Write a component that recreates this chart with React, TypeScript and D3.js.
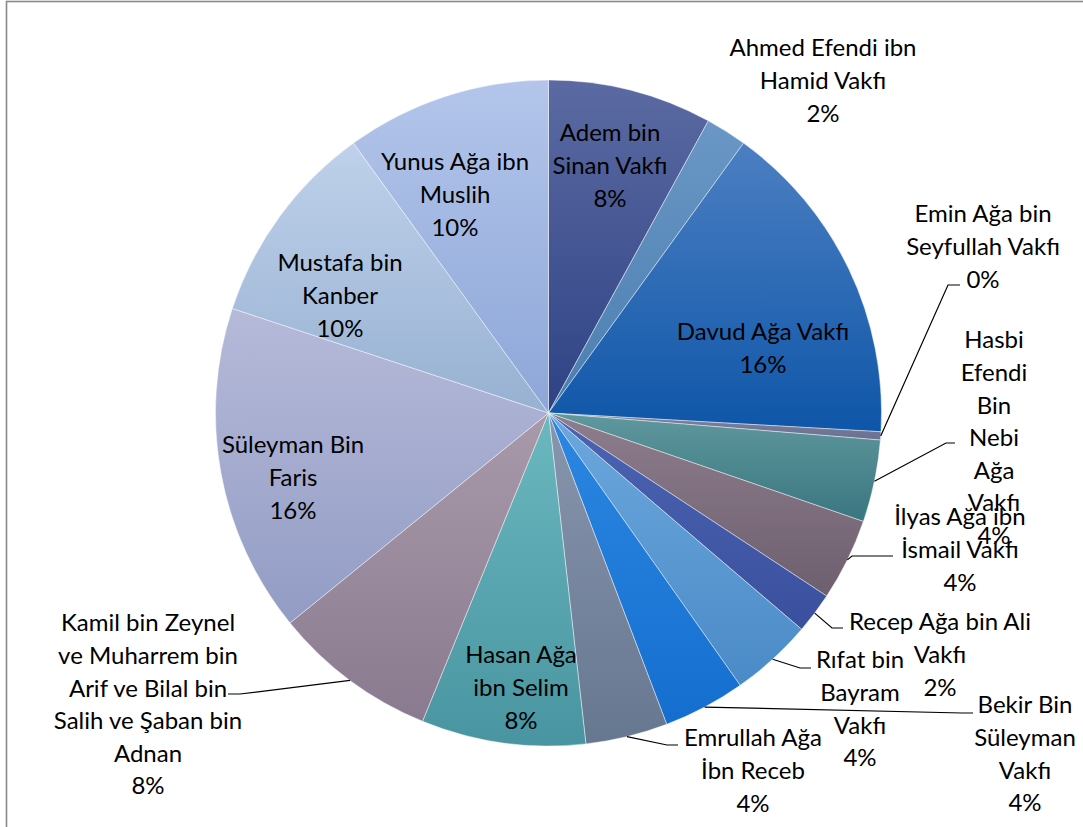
import React from "react";
import * as d3 from "d3";

const categories = [
  "Adem bin Sinan Vakfı",
  "Ahmed Efendi ibn Hamid Vakfı",
  "Davud Ağa Vakfı",
  "Emin Ağa bin Seyfullah Vakfı",
  "Hasbi Efendi Bin Nebi Ağa Vakfı",
  "İlyas Ağa ibn İsmail Vakfı",
  "Recep Ağa bin Ali Vakfı",
  "Rıfat bin Bayram Vakfı",
  "Bekir Bin Süleyman Vakfı",
  "Emrullah Ağa İbn Receb",
  "Hasan Ağa ibn Selim",
  "Kamil bin Zeynel ve Muharrem bin Arif ve Bilal bin Salih ve Şaban bin Adnan",
  "Süleyman Bin Faris",
  "Mustafa bin Kanber",
  "Yunus Ağa ibn Muslih",
];

const values = [4, 1, 8, 0.2, 2, 2, 1, 2, 2, 2, 4, 4, 8, 5, 5];

// label text as wrapped in the original
const labelLines = [
  ["Adem bin", "Sinan Vakfı"],
  ["Ahmed Efendi ibn", "Hamid Vakfı"],
  ["Davud Ağa Vakfı"],
  ["Emin Ağa bin", "Seyfullah Vakfı"],
  ["Hasbi", "Efendi", "Bin", "Nebi", "Ağa", "Vakfı"],
  ["İlyas Ağa ibn", "İsmail Vakfı"],
  ["Recep Ağa bin Ali", "Vakfı"],
  ["Rıfat bin", "Bayram", "Vakfı"],
  ["Bekir Bin", "Süleyman", "Vakfı"],
  ["Emrullah Ağa", "İbn Receb"],
  ["Hasan Ağa", "ibn Selim"],
  ["Kamil bin Zeynel", "ve Muharrem bin", "Arif ve Bilal bin", "Salih ve Şaban bin", "Adnan"],
  ["Süleyman Bin", "Faris"],
  ["Mustafa bin", "Kanber"],
  ["Yunus Ağa ibn", "Muslih"],
];

// slice gradient colours (top, bottom)
const topColors = [
  "#5b6aa2", "#6a97c5", "#4c7fc2", "#7d82a0", "#5f989d", "#8d7d8d", "#4c64b2", "#6ca8de",
  "#2c88e2", "#8896ad", "#6cb8c0", "#a99aaa", "#b6bad9", "#bfd1ea", "#b3c5ea",
];
const bottomColors = [
  "#2e4284", "#4a7eb0", "#0e56a8", "#6a7090", "#3a7680", "#6e5f6e", "#3a509e", "#4a8ac6",
  "#146ecf", "#667790", "#4894a0", "#8a7a8f", "#929cc4", "#97b1d2", "#8da7d8",
];

// label layout: centre x and first-line centre y of each label block
const labelX = [610, 823, 763, 983, 994, 960, 940, 860, 1025, 753, 521, 148, 293, 340, 455];
const labelY = [133, 48, 332, 214, 340, 517, 622, 660, 705, 738, 655, 623, 445, 263, 162];
// leader lines: elbow point and end x (null = no leader)
const leaderElbow: ([number, number] | null)[] = [
  null, null, null, [948, 285], [946, 443], [852, 556], [832, 628], [800, 668],
  [962, 713], [667, 745], null, [240, 694], null, null, null,
];
const leaderEndX: (number | null)[] = [
  null, null, null, 960, 955, 893, 843, 811, 973, 678, null, 228, null, null, null,
];

const W = 1083;
const H = 827;
const cx = 548.5;
const cy = 413;
const R = 333;
const lineH = 32.6;
const fontSize = 24;

export default function App() {
  const total = d3.sum(values);
  const pie = d3.pie<number>().sort(null).value((d) => d);
  const arcs = pie(values);
  const arc = d3.arc<d3.PieArcDatum<number>>().innerRadius(0).outerRadius(R);
  const fmt = d3.format(".0%");

  return (
    <svg
      width={W}
      height={H}
      style={{ position: "absolute", left: 0, top: 0, background: "#fff" }}
      fontFamily="Lato, 'Open Sans', sans-serif"
    >
      <defs>
        {arcs.map((a, i) => (
          <linearGradient key={i} id={`g${i}`} x1="0" y1="0" x2="0" y2="1">
            <stop offset="0" stopColor={topColors[i]} />
            <stop offset="1" stopColor={bottomColors[i]} />
          </linearGradient>
        ))}
      </defs>
      <rect x={6.5} y={1.5} width={W + 20} height={H + 20} fill="#fff" stroke="#8a8a8a" strokeWidth={1.6} />
      <g transform={`translate(${cx},${cy})`}>
        {arcs.map((a, i) => (
          <path
            key={i}
            d={arc(a) || ""}
            fill={`url(#g${i})`}
            stroke="#ffffff"
            strokeOpacity={0.55}
            strokeWidth={0.8}
          >
            <title>{categories[i]}</title>
          </path>
        ))}
      </g>
      {arcs.map((a, i) => {
        const el = leaderElbow[i];
        const ex = leaderEndX[i];
        if (!el || ex == null) return null;
        const mid = (a.startAngle + a.endAngle) / 2;
        const sx = cx + R * Math.sin(mid);
        const sy = cy - R * Math.cos(mid);
        return (
          <polyline
            key={`l${i}`}
            points={`${sx},${sy} ${el[0]},${el[1]} ${ex},${el[1]}`}
            fill="none"
            stroke="#000"
            strokeWidth={1.2}
          />
        );
      })}
      {arcs.map((a, i) => {
        const lines = [...labelLines[i], fmt(values[i] / total)];
        return (
          <text
            key={`t${i}`}
            x={labelX[i]}
            y={labelY[i]}
            textAnchor="middle"
            fontSize={fontSize}
            fill="#000"
          >
            {lines.map((ln, j) => (
              <tspan key={j} x={labelX[i]} y={labelY[i] + j * lineH} dy="0.35em">
                {ln}
              </tspan>
            ))}
          </text>
        );
      })}
    </svg>
  );
}
